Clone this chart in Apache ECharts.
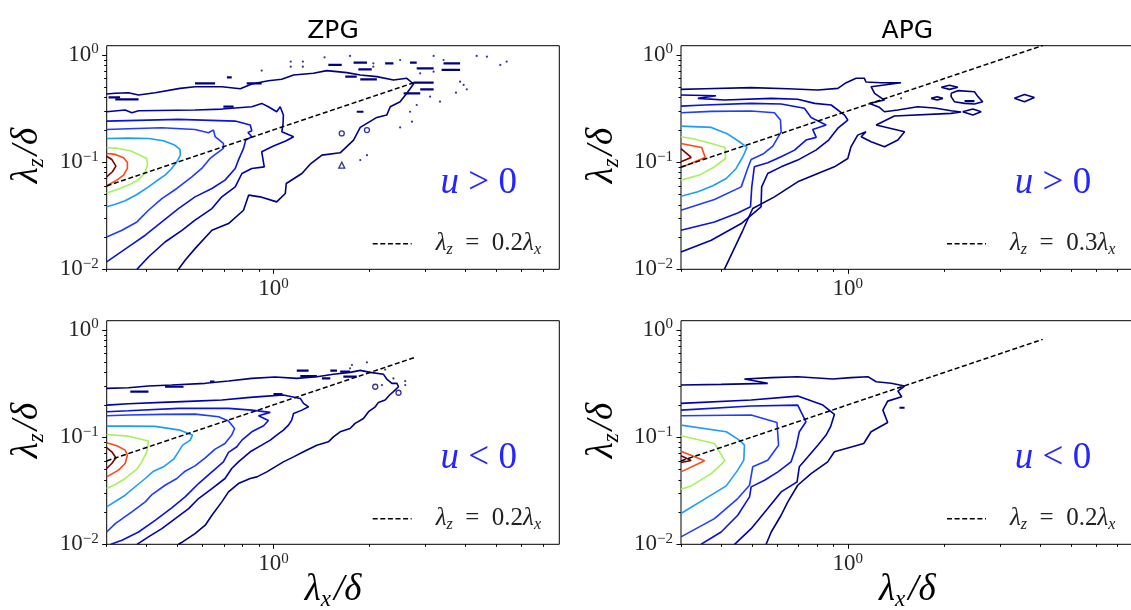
<!DOCTYPE html>
<html><head><meta charset="utf-8">
<script src="https://cdn.jsdelivr.net/npm/echarts@6/dist/echarts.min.js"></script>
<style>html,body{margin:0;padding:0;background:#fff;}#chart{width:1131px;height:610px;}</style>
</head><body><div id="chart"></div>
<script>
// ---------- axis ranges and tick labels (λ/δ units) ----------
const xLimits = [0.3, 7.87];
const yLimits = [0.01, 1.22];
const xMajorTicks = [1];
const yMajorTicks = [0.01, 0.1, 1];
const minorMultipliers = [2, 3, 4, 5, 6, 7, 8, 9];
const panelTitles = ['ZPG', 'APG'];
const signLabels = ['u > 0', 'u > 0', 'u < 0', 'u < 0'];
const slopeLabels = ['0.2', '0.3', '0.2', '0.2'];
// contour level colours (outermost -> innermost, jet-like)
const levelColors = ['#000080', '#0000b0', '#0a14dc', '#1f3cff', '#1c9cff', '#a6f25a', '#ff4814', '#7f0000'];

// ---------- contour paths: points are [log10(λx/δ), log10(λz/δ)] ----------
// ZPG, u > 0
const zpgPosLevels = [
 [[-0.523,-0.364],[-0.496,-0.358],[-0.455,-0.352],[-0.423,-0.374],[-0.371,-0.352],[-0.293,-0.312],[-0.246,-0.296],[-0.162,-0.296],[-0.104,-0.315],[-0.068,-0.271],[-0.016,-0.240],[0.026,-0.227],[0.063,-0.187],[0.125,-0.171],[0.167,-0.146],[0.230,-0.165],[0.272,-0.187],[0.324,-0.202],[0.376,-0.234],[0.418,-0.218],[0.439,-0.271],[0.418,-0.358],[0.397,-0.436],[0.366,-0.483],[0.355,-0.561],[0.324,-0.583],[0.272,-0.676],[0.251,-0.794],[0.209,-0.913],[0.152,-0.935],[0.115,-1.019],[0.089,-1.106],[0.040,-1.199],[0.037,-1.293],[0.010,-1.371],[-0.042,-1.324],[-0.078,-1.308],[-0.094,-1.449],[-0.141,-1.573],[-0.193,-1.636],[-0.246,-1.807],[-0.277,-1.916],[-0.298,-2.0]],
 [[-0.523,-0.530],[-0.465,-0.514],[-0.444,-0.539],[-0.423,-0.520],[-0.246,-0.514],[-0.162,-0.505],[-0.068,-0.483],[-0.037,-0.452],[-0.016,-0.483],[0.010,-0.530],[0.021,-0.483],[0.031,-0.560],[0.030,-0.640],[0.026,-0.717],[0.063,-0.763],[0.040,-0.801],[0.000,-0.850],[-0.037,-0.903],[-0.029,-1.044],[-0.068,-1.059],[-0.099,-1.106],[-0.120,-1.231],[-0.162,-1.324],[-0.193,-1.433],[-0.246,-1.542],[-0.287,-1.636],[-0.340,-1.745],[-0.392,-1.885],[-0.428,-2.0]],
 [[-0.523,-0.617],[-0.298,-0.601],[-0.120,-0.617],[-0.073,-0.654],[-0.068,-0.707],[-0.080,-0.723],[-0.068,-0.763],[-0.087,-0.794],[-0.094,-0.872],[-0.110,-0.981],[-0.120,-1.059],[-0.152,-1.168],[-0.193,-1.246],[-0.246,-1.324],[-0.298,-1.433],[-0.350,-1.558],[-0.402,-1.682],[-0.455,-1.791],[-0.523,-1.931]],
 [[-0.523,-0.695],[-0.455,-0.688],[-0.350,-0.679],[-0.246,-0.695],[-0.204,-0.726],[-0.188,-0.701],[-0.183,-0.763],[-0.157,-0.826],[-0.157,-0.872],[-0.199,-0.966],[-0.225,-1.059],[-0.256,-1.137],[-0.303,-1.246],[-0.350,-1.340],[-0.392,-1.449],[-0.428,-1.558],[-0.475,-1.636],[-0.523,-1.698]],
 [[-0.523,-0.779],[-0.455,-0.776],[-0.392,-0.779],[-0.345,-0.801],[-0.310,-0.841],[-0.293,-0.882],[-0.292,-0.935],[-0.303,-0.997],[-0.319,-1.059],[-0.340,-1.121],[-0.366,-1.174],[-0.392,-1.231],[-0.428,-1.302],[-0.465,-1.361],[-0.496,-1.393],[-0.523,-1.417]],
 [[-0.523,-0.863],[-0.486,-0.872],[-0.449,-0.894],[-0.423,-0.928],[-0.397,-0.966],[-0.395,-1.028],[-0.404,-1.106],[-0.425,-1.168],[-0.449,-1.206],[-0.481,-1.246],[-0.523,-1.287]],
 [[-0.523,-0.919],[-0.496,-0.928],[-0.470,-0.960],[-0.458,-1.003],[-0.458,-1.059],[-0.470,-1.121],[-0.491,-1.168],[-0.523,-1.221]],
 [[-0.523,-0.945],[-0.507,-0.975],[-0.494,-1.037],[-0.505,-1.090],[-0.523,-1.137]]
];
const zpgPosDashes = [[-0.246,-0.183,-0.265],[-0.146,-0.131,-0.209],[-0.084,-0.037,-0.265],[-0.517,-0.481,-0.396],[-0.496,-0.423,-0.414],[-0.157,-0.125,-0.483],[0.172,0.214,-0.093],[0.251,0.293,-0.072],[0.266,0.308,-0.134],[0.350,0.376,-0.078],[0.428,0.449,-0.072],[0.533,0.585,-0.078],[0.527,0.585,-0.140],[0.449,0.502,-0.125],[0.225,0.261,-0.202],[0.272,0.324,-0.227],[0.439,0.502,-0.259],[0.460,0.502,-0.321],[0.408,0.460,-0.358],[0.261,0.282,-0.530]];
const zpgPosDots = [[0.054,-0.062],[0.054,-0.109],[0.092,-0.062],[0.092,-0.109],[0.160,-0.022],[0.240,-0.009],[0.313,-0.078],[0.313,-0.109],[0.397,-0.047],[0.460,-0.171],[0.502,-0.009],[0.502,-0.156],[0.533,-0.047],[0.585,-0.249],[0.596,-0.280],[0.606,-0.321],[0.637,-0.009],[0.669,-0.016],[0.711,-0.093],[0.731,-0.062],[0.434,-0.623],[0.397,-0.676],[0.428,-0.530],[0.572,-0.352],[0.522,-0.436],[0.272,-0.981],[0.293,-0.935],[0.491,-0.389],[0.449,-0.467],[-0.037,-0.146]];
const zpgPosRings = [[0.214,-0.732],[0.293,-0.701]];
const zpgPosTriangles = [[0.214,-1.028]];
const zpgPosLoops = [];
const zpgPosGuide = [[-0.523,-1.222],[0.444,-0.255]];

// APG, u > 0
const apgPosLevels = [
 [[-0.523,-0.321],[-0.449,-0.315],[-0.303,-0.305],[-0.188,-0.315],[-0.094,-0.327],[-0.031,-0.312],[-0.005,-0.259],[0.026,-0.218],[0.052,-0.218],[0.057,-0.252],[0.104,-0.259],[0.167,-0.259],[0.073,-0.296],[0.084,-0.358],[0.115,-0.421],[0.068,-0.452],[0.099,-0.489],[0.115,-0.530],[0.157,-0.514],[0.219,-0.483],[0.272,-0.495],[0.324,-0.520],[0.355,-0.533],[0.324,-0.545],[0.146,-0.570],[0.089,-0.654],[0.178,-0.717],[0.157,-0.794],[0.115,-0.857],[0.073,-0.810],[0.042,-0.763],[0.057,-0.717],[0.031,-0.748],[0.010,-0.857],[0.000,-0.966],[-0.042,-1.044],[-0.094,-1.106],[-0.157,-1.184],[-0.230,-1.324],[-0.298,-1.433],[-0.329,-1.636],[-0.387,-2.0]],
 [[-0.523,-0.374],[-0.413,-0.380],[-0.470,-0.405],[-0.387,-0.421],[-0.240,-0.405],[-0.157,-0.414],[-0.104,-0.452],[-0.052,-0.467],[-0.010,-0.561],[0.000,-0.607],[-0.030,-0.680],[-0.060,-0.794],[-0.100,-0.888],[-0.157,-0.981],[-0.209,-1.044],[-0.251,-1.106],[-0.270,-1.231],[-0.272,-1.417],[-0.334,-1.573],[-0.428,-1.729],[-0.523,-1.838]],
 [[-0.523,-0.477],[-0.449,-0.467],[-0.303,-0.452],[-0.209,-0.458],[-0.136,-0.498],[-0.115,-0.583],[-0.068,-0.654],[-0.110,-0.695],[-0.099,-0.769],[-0.131,-0.794],[-0.167,-0.888],[-0.209,-0.950],[-0.251,-1.006],[-0.293,-1.044],[-0.301,-1.231],[-0.305,-1.417],[-0.345,-1.474],[-0.418,-1.558],[-0.523,-1.636]],
 [[-0.523,-0.539],[-0.428,-0.526],[-0.303,-0.523],[-0.230,-0.539],[-0.211,-0.607],[-0.209,-0.717],[-0.235,-0.850],[-0.266,-0.925],[-0.303,-0.975],[-0.314,-1.059],[-0.334,-1.231],[-0.418,-1.349],[-0.523,-1.449]],
 [[-0.523,-0.664],[-0.428,-0.676],[-0.376,-0.738],[-0.340,-0.810],[-0.316,-0.863],[-0.329,-0.950],[-0.350,-1.059],[-0.381,-1.153],[-0.423,-1.221],[-0.470,-1.277],[-0.523,-1.318]],
 [[-0.523,-0.763],[-0.481,-0.785],[-0.428,-0.826],[-0.385,-0.863],[-0.383,-0.966],[-0.423,-1.053],[-0.465,-1.121],[-0.523,-1.168]],
 [[-0.523,-0.826],[-0.458,-0.863],[-0.447,-0.956],[-0.523,-1.050]],
 [[-0.523,-0.875],[-0.491,-0.956],[-0.523,-0.997]]
];
const apgPosDashes = [[0.366,0.397,-0.430]];
const apgPosDots = [[0.167,-0.405]];
const apgPosRings = [];
const apgPosTriangles = [];
const apgPosLoops = [
 [[0.293,-0.302],[0.319,-0.283],[0.345,-0.302],[0.319,-0.321],[0.293,-0.302]],
 [[0.324,-0.358],[0.345,-0.333],[0.397,-0.343],[0.408,-0.389],[0.423,-0.436],[0.397,-0.458],[0.366,-0.452],[0.334,-0.436],[0.324,-0.389],[0.324,-0.358]],
 [[0.360,-0.530],[0.392,-0.505],[0.418,-0.530],[0.392,-0.561],[0.360,-0.530]],
 [[0.522,-0.405],[0.554,-0.368],[0.585,-0.396],[0.554,-0.436],[0.522,-0.405]],
 [[0.261,-0.405],[0.280,-0.389],[0.298,-0.405],[0.280,-0.421],[0.261,-0.405]]
];
const apgPosGuide = [[-0.523,-1.046],[0.611,0.088]];

// ZPG, u < 0
const zpgNegLevels = [
 [[-0.523,-0.545],[-0.455,-0.539],[-0.392,-0.523],[-0.319,-0.514],[-0.214,-0.498],[-0.141,-0.477],[-0.068,-0.452],[0.005,-0.439],[0.073,-0.452],[0.136,-0.436],[0.188,-0.414],[0.240,-0.396],[0.272,-0.377],[0.303,-0.396],[0.345,-0.414],[0.355,-0.458],[0.371,-0.498],[0.387,-0.498],[0.392,-0.530],[0.376,-0.576],[0.364,-0.607],[0.350,-0.654],[0.329,-0.676],[0.319,-0.717],[0.298,-0.763],[0.282,-0.826],[0.256,-0.872],[0.240,-0.919],[0.209,-0.950],[0.188,-0.997],[0.172,-1.044],[0.136,-1.075],[0.115,-1.106],[0.094,-1.137],[0.063,-1.184],[0.031,-1.231],[0.005,-1.277],[-0.021,-1.324],[-0.052,-1.371],[-0.073,-1.386],[-0.110,-1.433],[-0.141,-1.511],[-0.162,-1.604],[-0.193,-1.729],[-0.214,-1.822],[-0.246,-1.900],[-0.285,-1.978],[-0.298,-2.0]],
 [[-0.523,-0.701],[-0.455,-0.688],[-0.350,-0.676],[-0.246,-0.664],[-0.162,-0.654],[-0.073,-0.629],[-0.031,-0.620],[0.031,-0.607],[0.084,-0.639],[0.094,-0.685],[0.110,-0.717],[0.089,-0.748],[0.063,-0.779],[0.057,-0.841],[0.047,-0.888],[0.031,-0.935],[0.010,-0.981],[-0.010,-1.028],[-0.037,-1.075],[-0.073,-1.137],[-0.110,-1.231],[-0.131,-1.293],[-0.152,-1.386],[-0.193,-1.480],[-0.235,-1.573],[-0.266,-1.667],[-0.308,-1.760],[-0.350,-1.854],[-0.392,-1.931],[-0.428,-2.0]],
 [[-0.523,-0.763],[-0.455,-0.754],[-0.298,-0.732],[-0.141,-0.732],[-0.068,-0.748],[-0.010,-0.769],[-0.047,-0.801],[-0.016,-0.844],[-0.031,-0.894],[-0.068,-0.950],[-0.099,-1.028],[-0.115,-1.090],[-0.141,-1.143],[-0.157,-1.231],[-0.193,-1.324],[-0.235,-1.433],[-0.277,-1.558],[-0.319,-1.660],[-0.371,-1.776],[-0.423,-1.885],[-0.475,-1.963],[-0.510,-2.0]],
 [[-0.523,-0.801],[-0.455,-0.794],[-0.350,-0.788],[-0.246,-0.785],[-0.172,-0.810],[-0.141,-0.850],[-0.122,-0.919],[-0.131,-0.981],[-0.152,-1.059],[-0.183,-1.112],[-0.214,-1.193],[-0.246,-1.268],[-0.277,-1.318],[-0.303,-1.386],[-0.340,-1.449],[-0.381,-1.536],[-0.402,-1.604],[-0.444,-1.698],[-0.496,-1.807],[-0.523,-1.885]],
 [[-0.523,-0.897],[-0.455,-0.897],[-0.371,-0.900],[-0.293,-0.935],[-0.254,-0.981],[-0.261,-1.028],[-0.285,-1.075],[-0.298,-1.137],[-0.313,-1.206],[-0.345,-1.277],[-0.376,-1.318],[-0.402,-1.386],[-0.428,-1.449],[-0.465,-1.542],[-0.523,-1.651]],
 [[-0.523,-0.975],[-0.455,-0.991],[-0.392,-1.037],[-0.397,-1.137],[-0.413,-1.231],[-0.428,-1.299],[-0.465,-1.386],[-0.496,-1.442],[-0.523,-1.480]],
 [[-0.523,-1.053],[-0.491,-1.081],[-0.465,-1.121],[-0.458,-1.168],[-0.465,-1.246],[-0.486,-1.308],[-0.523,-1.371]],
 [[-0.523,-1.097],[-0.507,-1.137],[-0.494,-1.193],[-0.507,-1.246],[-0.523,-1.293]]
];
const zpgNegDashes = [[-0.449,-0.392,-0.576],[-0.340,-0.282,-0.530],[-0.199,-0.185,-0.483],[0.000,0.028,-0.598],[0.073,0.110,-0.380],[0.084,0.136,-0.430],[0.152,0.178,-0.452],[0.178,0.199,-0.380],[0.219,0.261,-0.436],[0.209,0.240,-0.389]];
const zpgNegDots = [[0.246,-0.327],[0.293,-0.302],[0.413,-0.477],[0.413,-0.514],[0.340,-0.514],[0.376,-0.452],[0.240,-0.358],[0.350,-0.370]];
const zpgNegRings = [[0.319,-0.530],[0.392,-0.586]];
const zpgNegTriangles = [];
const zpgNegLoops = [];
const zpgNegGuide = [[-0.523,-1.222],[0.443,-0.256]];

// APG, u < 0
const apgNegLevels = [
 [[-0.523,-0.514],[-0.397,-0.508],[-0.251,-0.498],[-0.324,-0.458],[-0.240,-0.445],[-0.157,-0.436],[-0.047,-0.458],[0.010,-0.445],[0.063,-0.436],[0.089,-0.483],[0.136,-0.498],[0.178,-0.523],[0.157,-0.570],[0.169,-0.623],[0.125,-0.664],[0.110,-0.748],[0.125,-0.863],[0.073,-0.950],[0.050,-1.059],[-0.042,-1.137],[-0.063,-1.231],[-0.115,-1.340],[-0.157,-1.449],[-0.188,-1.604],[-0.209,-1.729],[-0.240,-1.885],[-0.256,-2.0]],
 [[-0.523,-0.685],[-0.303,-0.654],[-0.157,-0.617],[-0.078,-0.701],[-0.042,-0.788],[-0.054,-0.903],[-0.068,-0.981],[-0.094,-1.075],[-0.125,-1.184],[-0.152,-1.277],[-0.159,-1.417],[-0.209,-1.511],[-0.251,-1.667],[-0.303,-1.854],[-0.355,-2.0]],
 [[-0.523,-0.748],[-0.303,-0.710],[-0.157,-0.701],[-0.131,-0.857],[-0.152,-0.950],[-0.162,-1.090],[-0.178,-1.231],[-0.219,-1.324],[-0.261,-1.402],[-0.303,-1.464],[-0.308,-1.558],[-0.345,-1.729],[-0.397,-1.885],[-0.460,-2.0]],
 [[-0.523,-0.801],[-0.303,-0.794],[-0.222,-0.863],[-0.217,-1.075],[-0.251,-1.215],[-0.298,-1.277],[-0.308,-1.449],[-0.345,-1.573],[-0.418,-1.760],[-0.523,-1.931]],
 [[-0.523,-0.888],[-0.381,-0.950],[-0.340,-1.028],[-0.324,-1.075],[-0.326,-1.215],[-0.345,-1.308],[-0.381,-1.455],[-0.449,-1.579],[-0.523,-1.713]],
 [[-0.523,-0.988],[-0.418,-1.059],[-0.385,-1.221],[-0.428,-1.340],[-0.491,-1.455],[-0.523,-1.486]],
 [[-0.523,-1.131],[-0.449,-1.221],[-0.523,-1.324]],
 [[-0.523,-1.174],[-0.491,-1.218],[-0.523,-1.237]]
];
const apgNegDashes = [[0.162,0.178,-0.726]];
const apgNegDots = [];
const apgNegRings = [];
const apgNegTriangles = [];
const apgNegLoops = [];
const apgNegGuide = [[-0.523,-1.222],[0.611,-0.088]];

// ---------- layout ----------
const gridBoxes = [
  {left: 106.7, top: 45.7}, {left: 681, top: 45.7},
  {left: 106.7, top: 320.7}, {left: 681, top: 320.7}
];
const gridW = 452.6, gridH = 223.6;

const panels = [
  {levels: zpgPosLevels, dashes: zpgPosDashes, dots: zpgPosDots, rings: zpgPosRings, tris: zpgPosTriangles, loops: zpgPosLoops, guide: zpgPosGuide},
  {levels: apgPosLevels, dashes: apgPosDashes, dots: apgPosDots, rings: apgPosRings, tris: apgPosTriangles, loops: apgPosLoops, guide: apgPosGuide},
  {levels: zpgNegLevels, dashes: zpgNegDashes, dots: zpgNegDots, rings: zpgNegRings, tris: zpgNegTriangles, loops: zpgNegLoops, guide: zpgNegGuide},
  {levels: apgNegLevels, dashes: apgNegDashes, dots: apgNegDots, rings: apgNegRings, tris: apgNegTriangles, loops: apgNegLoops, guide: apgNegGuide}
];

const SERIF = 'Liberation Serif';
const LBL = '#262626';
const xMin = Math.log10(xLimits[0]), xMax = Math.log10(xLimits[1]);
const yMin = Math.log10(yLimits[0]), yMax = Math.log10(yLimits[1]);

function minorTicks(lo, hi) {
  const out = [];
  for (let d = -3; d <= 1; d++) {
    for (const m of minorMultipliers) {
      const v = Math.log10(m) + d;
      if (v >= lo - 1e-9 && v <= hi + 1e-9) out.push(Math.min(Math.max(v, lo), hi));
    }
  }
  return out;
}
function powLabel(v) {
  const e = Math.round(v);
  return '{b|10}{s|' + (e < 0 ? '\u2212' + (-e) : String(e)) + '}';
}
const tickRich = {
  b: {fontFamily: SERIF, fontSize: 23, color: LBL, lineHeight: 26},
  s: {fontFamily: SERIF, fontSize: 15, color: LBL, lineHeight: 15, verticalAlign: 'top'}
};

const grid = [], xAxis = [], yAxis = [], series = [];
const NAVY = levelColors[0];
const noLine = {show: false, onZero: false};

panels.forEach((p, i) => {
  grid.push({left: gridBoxes[i].left, top: gridBoxes[i].top, width: gridW, height: gridH,
    show: true, borderColor: '#000', borderWidth: 1, backgroundColor: 'transparent',
    containLabel: false, outerBoundsMode: 'none'});
  const xMajor = xMajorTicks.map(v => Math.log10(v));
  const yMajor = yMajorTicks.map(v => Math.log10(v));
  xAxis.push({type: 'value', gridIndex: i, min: xMin, max: xMax, position: 'bottom',
    axisLine: noLine, splitLine: {show: false},
    axisTick: {show: true, customValues: xMajor, length: 4.5, lineStyle: {color: '#000', width: 1}},
    axisLabel: {show: true, customValues: xMajor, margin: 7, formatter: powLabel, rich: tickRich}});
  xAxis.push({type: 'value', gridIndex: i, min: xMin, max: xMax, position: 'bottom',
    axisLine: noLine, splitLine: {show: false},
    axisTick: {show: true, customValues: minorTicks(xMin, xMax), length: 2.5, lineStyle: {color: '#000', width: 1}},
    axisLabel: {show: false}});
  yAxis.push({type: 'value', gridIndex: i, min: yMin, max: yMax, position: 'left',
    axisLine: noLine, splitLine: {show: false},
    axisTick: {show: true, customValues: yMajor, length: 4.5, lineStyle: {color: '#000', width: 1}},
    axisLabel: {show: true, customValues: yMajor, margin: 8, formatter: powLabel, rich: tickRich}});
  yAxis.push({type: 'value', gridIndex: i, min: yMin, max: yMax, position: 'left',
    axisLine: noLine, splitLine: {show: false},
    axisTick: {show: true, customValues: minorTicks(yMin, yMax), length: 2.5, lineStyle: {color: '#000', width: 1}},
    axisLabel: {show: false}});
  const xi = 2 * i, yi = 2 * i;
  p.levels.forEach((pts, k) => {
    series.push({type: 'line', xAxisIndex: xi, yAxisIndex: yi, data: pts, symbol: 'none', silent: true,
      lineStyle: {color: levelColors[k], width: 1.6}, z: 2});
  });
  p.loops.forEach(pts => {
    series.push({type: 'line', xAxisIndex: xi, yAxisIndex: yi, data: pts, symbol: 'none', silent: true,
      lineStyle: {color: NAVY, width: 1.6}, z: 2});
  });
  p.dashes.forEach(d => {
    series.push({type: 'line', xAxisIndex: xi, yAxisIndex: yi, data: [[d[0], d[2]], [d[1], d[2]]], symbol: 'none', silent: true,
      lineStyle: {color: NAVY, width: 2.2}, z: 2});
  });
  if (p.dots.length) series.push({type: 'scatter', xAxisIndex: xi, yAxisIndex: yi, data: p.dots, symbol: 'circle', symbolSize: 2.2, silent: true,
    itemStyle: {color: NAVY}, z: 2});
  if (p.rings.length) series.push({type: 'scatter', xAxisIndex: xi, yAxisIndex: yi, data: p.rings, symbol: 'circle', symbolSize: 5, silent: true,
    itemStyle: {color: 'rgba(0,0,0,0)', borderColor: NAVY, borderWidth: 1.3}, z: 2});
  if (p.tris.length) series.push({type: 'scatter', xAxisIndex: xi, yAxisIndex: yi, data: p.tris, symbol: 'triangle', symbolSize: 6, silent: true,
    itemStyle: {color: 'rgba(0,0,0,0)', borderColor: NAVY, borderWidth: 1.3}, z: 2});
  series.push({type: 'line', xAxisIndex: xi, yAxisIndex: yi, data: p.guide, symbol: 'none', silent: true,
    lineStyle: {color: '#000', width: 1.5, type: [5, 2.6]}, z: 5});
});

// ---------- texts ----------
const graphic = [];
function txt(x, y, text, rich, extra) {
  return Object.assign({type: 'text', x: x, y: y, silent: true,
    style: {text: text, rich: rich, fill: '#000', align: 'center', verticalAlign: 'middle', textAlign: 'center', textVerticalAlign: 'middle'}}, extra || {});
}
panelTitles.forEach((t, c) => {
  const g = gridBoxes[c];
  graphic.push({type: 'text', x: g.left + gridW / 2, y: 31, silent: true,
    style: {text: t, fill: '#000', font: '25px "DejaVu Sans"', align: 'center', verticalAlign: 'middle', textAlign: 'center', textVerticalAlign: 'middle'}});
});
const nameRich = {
  l: {fontFamily: SERIF, fontStyle: 'italic', fontSize: 37, lineHeight: 42, fill: '#000', verticalAlign: 'middle'},
  s: {fontFamily: SERIF, fontStyle: 'italic', fontSize: 23, lineHeight: 23, fill: '#000', verticalAlign: 'bottom', padding: [0, 3, 0, 0]}
};
gridBoxes.forEach((g, i) => {
  graphic.push(txt(g.left - 79, g.top + gridH / 2 - 2, '{l|\u03bb}{s|z}{l|/\u03b4}', nameRich, {rotation: Math.PI / 2}));
  if (i >= 2) graphic.push(txt(g.left + gridW / 2, 590, '{l|\u03bb}{s|x}{l|/\u03b4}', nameRich));
  const parts = signLabels[i].split(' ');
  graphic.push(txt(g.left + 372, g.top + 138, '{i|' + parts[0] + '}{n| ' + parts[1] + ' ' + parts[2] + '}', {
    i: {fontFamily: SERIF, fontStyle: 'italic', fontSize: 37, fill: '#2525ff', lineHeight: 40},
    n: {fontFamily: SERIF, fontSize: 37, fill: '#2525ff', lineHeight: 40}
  }));
  const ly = g.top + 198;
  graphic.push({type: 'line', silent: true, shape: {x1: g.left + 266, y1: ly, x2: g.left + 305, y2: ly},
    style: {stroke: '#000', lineWidth: 1.5, lineDash: [5, 2.6]}});
  graphic.push({type: 'text', x: g.left + 329, y: ly, silent: true,
    style: {text: '{l|\u03bb}{s|z}{n|\u2002=\u2002' + slopeLabels[i] + '}{l|\u03bb}{s|x}',
      rich: {
        l: {fontFamily: SERIF, fontStyle: 'italic', fontSize: 25, lineHeight: 28, fill: '#222'},
        n: {fontFamily: SERIF, fontSize: 25, lineHeight: 28, fill: '#222'},
        s: {fontFamily: SERIF, fontStyle: 'italic', fontSize: 16, lineHeight: 16, fill: '#222', verticalAlign: 'bottom'}
      },
      fill: '#222', align: 'left', verticalAlign: 'middle', textAlign: 'left', textVerticalAlign: 'middle'}});
});

const chart = echarts.init(document.getElementById('chart'), null, {renderer: 'canvas'});
chart.setOption({
  animation: false,
  backgroundColor: '#fff',
  grid: grid, xAxis: xAxis, yAxis: yAxis, series: series, graphic: graphic
});
</script></body></html>
